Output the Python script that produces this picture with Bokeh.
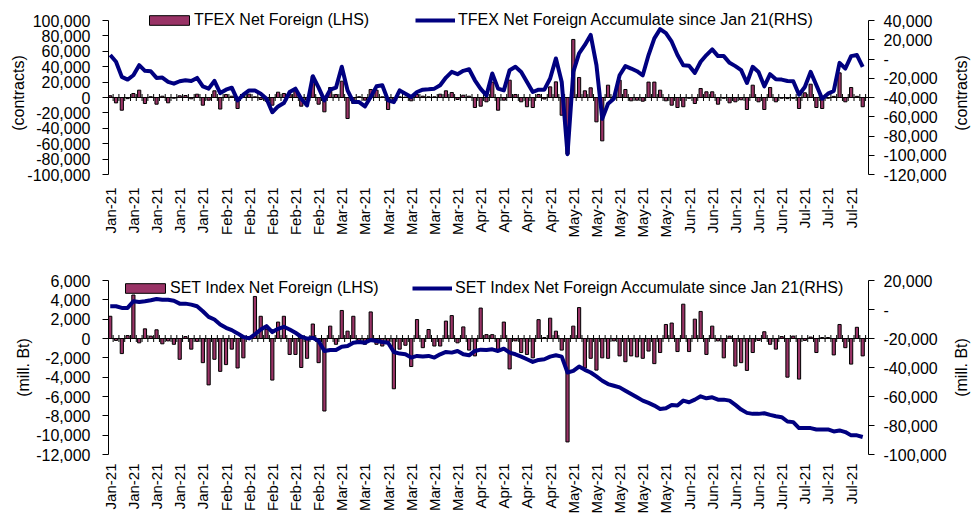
import math
from bokeh.plotting import figure
from bokeh.models import (Range1d, LinearAxis, FixedTicker, NumeralTickFormatter,
                          Span, Legend, LegendItem)
from bokeh.layouts import column, row
from bokeh.embed import file_html
from bokeh.resources import INLINE

# ---------------- data ----------------
tick_labels = ["Jan-21", "Jan-21", "Jan-21", "Jan-21", "Jan-21",
               "Feb-21", "Feb-21", "Feb-21", "Feb-21", "Feb-21",
               "Mar-21", "Mar-21", "Mar-21", "Mar-21", "Mar-21", "Mar-21",
               "Apr-21", "Apr-21", "Apr-21", "Apr-21",
               "May-21", "May-21", "May-21", "May-21", "May-21",
               "Jun-21", "Jun-21", "Jun-21", "Jun-21", "Jun-21",
               "Jul-21", "Jul-21", "Jul-21"]

tfex_net = [2300, -7000, -16500, -1500, 5200, 9500, -7800, 1000, -8700, 1700,
            -6900, -900, 2200, 2600, -1700, 4300, -10000, -3500, 8700, -15000,
            3900, 1700, -14300, 1200, 4300, 900, -2600, -4800, -10000, 6900,
            5200, 4300, 10400, -11300, -3500, 27700, -8700, -18600, 13000, 3900,
            21200, -27300, -7800, 1000, -3500, 10400, 9500, 900, -15600, -2600,
            900, 500, -4300, 3900, 1700, 900, 900, 4300, 8700, 6500,
            -2600, 3000, 1700, -13000, -11300, -5600, 20000, -16500, -3500, 22500,
            3900, -5600, -12000, -13000, 3900, -2000, 13800, 20300, -23000, -73600,
            75400, 26000, 8700, 12600, -31600, -56300, 16000, 1000, 22500, 10400,
            -4300, -3500, -4800, 20000, 20000, 9500, -4300, -10000, -13000, -12000,
            -1000, -7800, 11700, 7400, 7400, -8700, -1000, -6900, -5600, -3000,
            -15600, 16000, -5600, -15600, 13000, -5600, -1000, -1500, -1000, -14300,
            6100, 17300, -13000, -14300, -1000, 1500, 32000, -5600, 13000, 1500,
            -12000]

tfex_acc = [4100, -2900, -18600, -21400, -16900, -6400, -12300, -12700, -19650, -19300,
            -23800, -25600, -23100, -22100, -22800, -19650, -28400, -30800, -22800, -35400,
            -31900, -29800, -43000, -37100, -32600, -32600, -36000, -41300, -55300, -49300,
            -45800, -34300, -30800, -41300, -48300, -17900, -29800, -43000, -31900, -29800,
            -8100, -32600, -44800, -44800, -49300, -39500, -28400, -27300, -43000, -44800,
            -32600, -36000, -39500, -34300, -31900, -31500, -30800, -27300, -19300, -13400,
            -15800, -12300, -10600, -22100, -31000, -37800, -15100, -30800, -32600, -11600,
            -8100, -13400, -23800, -34300, -31900, -31900, -20300, 600, -23800, -98900,
            -13400, 5800, 14600, 25000, -6400, -62200, -46500, -41300, -16900, -7400,
            -9900, -12700, -16900, 4100, 21500, 31000, 26800, 18000, 4100, -6400,
            -7100, -14400, -2900, 4100, 10000, 3000, 3000, -4000, -7400, -11600,
            -24900, -8100, -13400, -28400, -15800, -21000, -21400, -22800, -23100, -37100,
            -29100, -13400, -27300, -41300, -36000, -33200, -4000, -9900, 3000, 4100,
            -8100]

set_net = [2300, -200, -1560, 300, 4500, -450, 1000, 250, 900, -550,
           -250, -600, -2150, 200, -1100, -300, -2500, -4800, -2150, -3400,
           -2700, -1100, -3050, -2000, 200, 4350, 2300, 950, -4300, 1700,
           2300, -1650, -1650, -3000, -2050, 1500, -2500, -7500, 1280, -600,
           2900, 760, 2300, -200, -600, 2750, -600, -780, -300, -5200,
           -1100, -700, -2900, 1960, -950, 930, -780, -780, 1800, 2370,
           -450, 1200, -1200, -1800, 3150, 400, 400, -1200, 1700, -3150,
           -250, -1450, -1650, -2000, 1950, 100, 2100, 760, -1200, -10700,
           1280, 3200, -3050, -2050, -3270, -2000, -2050, -250, -1800, -2400,
           -1800, -1900, -2050, -1300, -2600, -1450, 1450, 1600, -1350, 3550,
           -1350, 2000, 2800, -1650, 1280, -250, -2000, 250, -2850, -2500,
           -3300, -1450, -200, 700, -600, -1100, 200, -4000, 250, -4200,
           -200, 150, -1450, 100, 100, -1700, 1450, -950, -2650, 1160,
           -1800]

set_acc = [2220, 2220, 1080, 1080, 5650, 5190, 5650, 6330, 7240, 6790,
           6790, 6100, 4050, 4050, 3360, 2220, -1200, -5080, -6910, -10330,
           -12620, -14220, -16500, -19010, -19920, -17180, -13760, -11480, -15590, -13300,
           -11930, -13760, -16040, -18780, -20150, -19460, -21750, -28600, -27910, -27910,
           -25630, -25170, -22890, -22430, -22890, -21060, -21750, -22430, -22890, -29280,
           -30420, -30880, -33160, -32020, -32480, -32020, -33160, -30880, -29280, -29740,
           -28600, -30880, -31570, -28600, -27700, -27910, -27460, -28600, -27000, -29740,
           -30880, -32480, -34310, -36130, -34760, -34310, -32480, -31570, -32480, -43440,
           -42300, -39330, -41610, -43440, -46180, -49150, -51430, -52570, -53710, -55990,
           -58280, -60560, -62850, -64440, -66270, -68550, -68100, -65810, -66270, -62850,
           -63990, -62160, -59880, -61250, -60560, -62160, -62160, -62850, -65810, -69010,
           -71290, -71980, -71980, -71520, -72660, -73580, -74260, -77230, -77680, -81790,
           -81790, -81790, -82710, -82710, -82710, -84080, -83390, -84530, -86810, -86810,
           -87960]

tfex_left_ticks = [-100000, -80000, -60000, -40000, -20000, 0, 20000, 40000, 60000, 80000, 100000]
tfex_right_ticks = [-120000, -100000, -80000, -60000, -40000, -20000, 0, 20000, 40000]
set_left_ticks = [-12000, -10000, -8000, -6000, -4000, -2000, 0, 2000, 4000, 6000]
set_right_ticks = [-100000, -80000, -60000, -40000, -20000, 0, 20000]

tfex_legend = ["TFEX Net Foreign (LHS)", "TFEX Net Foreign Accumulate since Jan 21(RHS)"]
set_legend = ["SET Index Net Foreign (LHS)", "SET Index Net Foreign Accumulate since Jan 21(RHS)"]

# ---------------- layout / style ----------------
FONT = "Liberation Sans"
BAR_FILL = "#993366"
LINE_COLOR = "#000080"
W_MAIN = 949          # main chart canvas width
W_TITLE = 22          # narrow canvas carrying the right-hand axis title
FRAME_L, FRAME_R = 108, 870
X_START, X_END = -0.3, 131.0
LABEL_EVERY = 4


def side_title(text, fig_top, fig_bot, frame_top, frame_bot):
    t = figure(width=W_TITLE, height=fig_bot - fig_top, x_range=Range1d(0, 1),
               y_range=Range1d(0, 1), output_backend="svg", toolbar_location=None,
               x_axis_location=None, min_border_left=19, min_border_right=0,
               min_border_top=frame_top - fig_top, min_border_bottom=fig_bot - frame_bot,
               outline_line_color=None, background_fill_color="white",
               border_fill_color="white")
    t.xgrid.grid_line_color = None
    t.ygrid.grid_line_color = None
    ax = t.yaxis[0]
    ax.ticker = FixedTicker(ticks=[])
    ax.axis_line_color = None
    ax.major_tick_line_color = None
    ax.minor_tick_line_color = None
    ax.major_tick_out = 0
    ax.major_label_standoff = 0
    ax.axis_label = text
    ax.axis_label_standoff = 1
    ax.axis_label_text_font = FONT
    ax.axis_label_text_font_size = "16px"
    ax.axis_label_text_font_style = "normal"
    ax.axis_label_text_color = "black"
    return t


def panel(net, acc, fig_top, fig_bot, frame_top, frame_bot, ax_top, ax_bot,
          lticks, rticks, leg_labels, bar_leg_x, line_leg_x, leg_top,
          bar_standoff, line_standoff, ytitle, l_title_standoff, xlab_standoff):
    n = len(net)
    idx = list(range(n))
    lmin, lmax = min(lticks), max(lticks)
    rmin, rmax = min(rticks), max(rticks)
    lpp = (lmax - lmin) / (ax_bot - ax_top)
    rpp = (rmax - rmin) / (ax_bot - ax_top)

    p = figure(width=W_MAIN, height=fig_bot - fig_top,
               x_range=Range1d(X_START, X_END),
               y_range=Range1d(lmin - (frame_bot - ax_bot) * lpp, lmax + (ax_top - frame_top) * lpp),
               output_backend="svg", toolbar_location=None,
               min_border_left=FRAME_L, min_border_right=W_MAIN - FRAME_R,
               min_border_top=frame_top - fig_top, min_border_bottom=fig_bot - frame_bot,
               outline_line_color=None,
               background_fill_color="white", border_fill_color="white")
    p.extra_y_ranges = {"r": Range1d(rmin - (frame_bot - ax_bot) * rpp,
                                     rmax + (ax_top - frame_top) * rpp)}
    p.xgrid.grid_line_color = None
    p.ygrid.grid_line_color = None

    # category axis (labels only)
    xa = p.xaxis[0]
    tick_x = idx[::LABEL_EVERY][:len(tick_labels)]
    xa.ticker = FixedTicker(ticks=tick_x)
    xa.major_label_overrides = {t: lab for t, lab in zip(tick_x, tick_labels)}
    xa.major_label_orientation = math.pi / 2
    xa.axis_line_color = None
    xa.major_tick_line_color = None
    xa.minor_tick_line_color = None
    xa.major_tick_out = 0
    xa.major_tick_in = 0
    xa.major_label_standoff = xlab_standoff
    xa.major_label_text_font = FONT
    xa.major_label_text_font_size = "15px"
    xa.major_label_text_color = "black"

    la = p.yaxis[0]
    ra = LinearAxis(y_range_name="r")
    p.add_layout(ra, "right")
    for ax, ticks in ((la, lticks), (ra, rticks)):
        ax.ticker = FixedTicker(ticks=ticks)
        ax.bounds = (min(ticks), max(ticks))
        ax.formatter = NumeralTickFormatter(format="0,0")
        ax.major_tick_out = 6
        ax.major_tick_in = 0
        ax.minor_tick_out = 0
        ax.minor_tick_in = 0
        ax.axis_line_color = "black"
        ax.major_tick_line_color = "black"
        ax.major_label_text_font = FONT
        ax.major_label_text_font_size = "16px"
        ax.major_label_text_color = "black"
    la.major_label_standoff = 12
    ra.major_label_standoff = 9
    ra.major_label_overrides = {0: "-"}
    la.axis_label = ytitle
    la.axis_label_standoff = l_title_standoff
    la.axis_label_text_font = FONT
    la.axis_label_text_font_size = "16px"
    la.axis_label_text_font_style = "normal"
    la.axis_label_text_color = "black"

    p.add_layout(Span(location=0, dimension="width", line_color="black",
                      line_width=1, level="underlay"))
    bars = p.vbar(x=idx, top=net, bottom=0, width=0.55, fill_color=BAR_FILL,
                  line_color="black", line_width=1)
    p.scatter(x=[i - 0.5 for i in range(n + 1)], y=0, marker="dash", size=7,
              angle=math.pi / 2, line_color="black", line_width=1)
    line = p.line(idx, acc, y_range_name="r", line_color=LINE_COLOR,
                  line_width=4, line_join="round")

    common = dict(orientation="horizontal", padding=0, margin=0, label_height=20,
                  label_text_font=FONT, label_text_font_size="16px",
                  label_text_color="black", border_line_color=None,
                  background_fill_alpha=0)
    # bar swatch: area legend glyph is inset 10% on each side
    leg_bar = Legend(items=[LegendItem(label=leg_labels[0], renderers=[bars])],
                     location=(bar_leg_x - 5 - FRAME_L, frame_bot - (leg_top + 20)),
                     glyph_width=50, glyph_height=12, label_standoff=bar_standoff, **common)
    leg_line = Legend(items=[LegendItem(label=leg_labels[1], renderers=[line])],
                      location=(line_leg_x - FRAME_L, frame_bot - (leg_top + 20)),
                      glyph_width=40, glyph_height=12, label_standoff=line_standoff, **common)
    p.add_layout(leg_bar)
    p.add_layout(leg_line)
    return p


# top panel: canvas 0..262, frame 8..177 (axis 20..174)
p1 = panel(tfex_net, tfex_acc, fig_top=0, fig_bot=262, frame_top=8, frame_bot=177,
           ax_top=20, ax_bot=174, lticks=tfex_left_ticks, rticks=tfex_right_ticks,
           leg_labels=tfex_legend, bar_leg_x=149, line_leg_x=415, leg_top=9.5,
           bar_standoff=0, line_standoff=3, ytitle="(contracts)",
           l_title_standoff=-3, xlab_standoff=10)
t1 = side_title("(contracts)", 0, 262, 8, 177)
# bottom panel: canvas 262..516, frame = axis 280..456
p2 = panel(set_net, set_acc, fig_top=262, fig_bot=516, frame_top=280, frame_bot=456,
           ax_top=280, ax_bot=456, lticks=set_left_ticks, rticks=set_right_ticks,
           leg_labels=set_legend, bar_leg_x=125, line_leg_x=412, leg_top=280,
           bar_standoff=0, line_standoff=3, ytitle="(mill. Bt)",
           l_title_standoff=1, xlab_standoff=9)
t2 = side_title("(mill. Bt)", 262, 516, 280, 456)

layout = column(row(p1, t1), row(p2, t2))
open("out.html", "w").write(file_html(layout, INLINE))
